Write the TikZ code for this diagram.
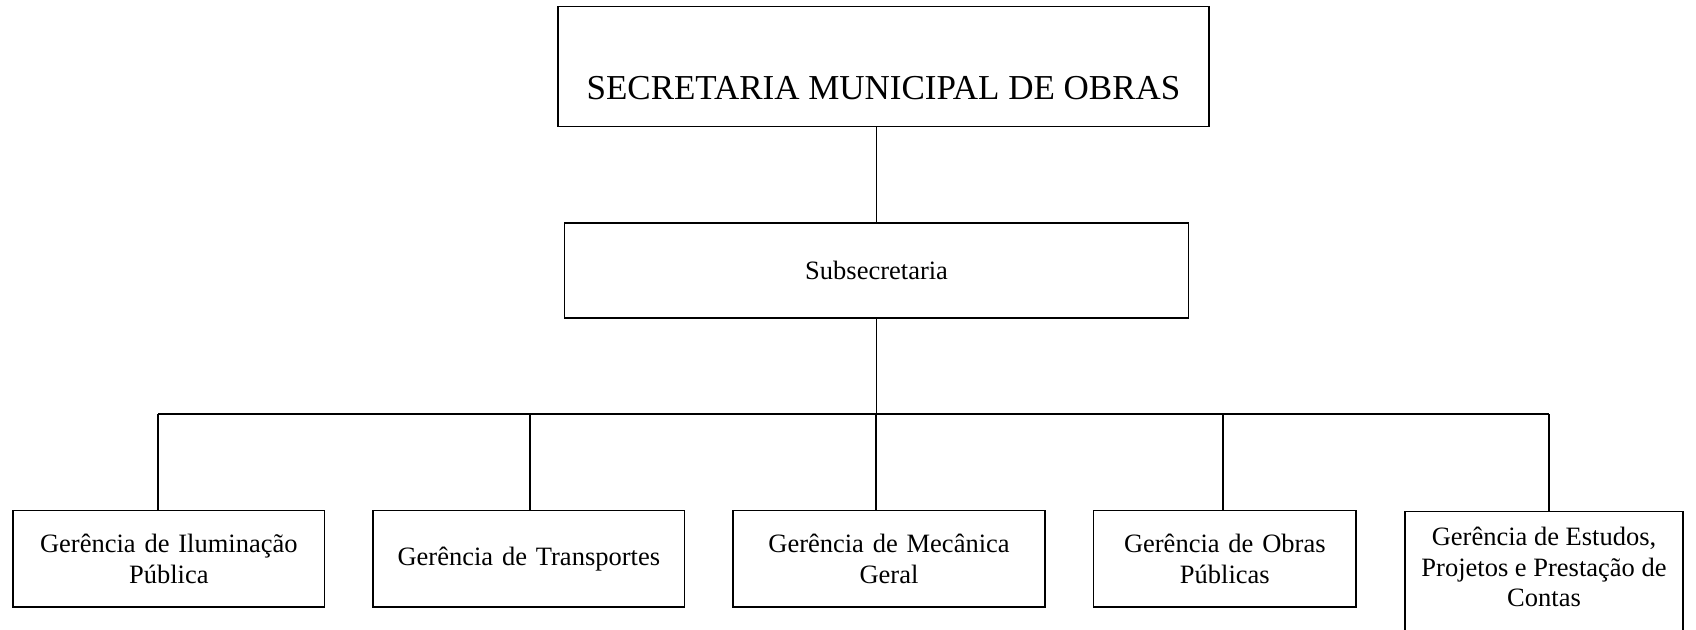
\documentclass[tikz,border=0pt]{standalone}
\usepackage{fontspec}
\setmainfont{Liberation Serif}
\begin{document}
\begin{tikzpicture}[x=1pt,y=-1pt,
  line width=1.6pt,
  box/.style={draw, line width=1.6pt, inner sep=0pt, align=center,
    font=\fontsize{26.5}{30.4}\selectfont},
  lbl/.style={align=center, font=\fontsize{26.5}{30.4}\selectfont, inner sep=0pt},
  conn/.style={line width=1.6pt}]
\useasboundingbox (0,0) rectangle (1696,629);
\clip (0,0) rectangle (1696,629);
% top
\node[box, anchor=base, minimum width=651pt, text height=93.2pt, text depth=26.8pt,
  font=\fontsize{35}{41}\selectfont] (top) at (883.5,99.7) {SECRETARIA MUNICIPAL DE OBRAS};
% sub
\node[box, minimum width=624pt, minimum height=95pt] (sub) at (876.6,270.4) {Subsecretaria};
% bottom boxes
\node[box, minimum width=311.5pt, minimum height=96.5pt, text width=300pt] (b1) at (168.8,558.8) {Gerência de Iluminação\\Pública};
\node[box, minimum width=311.6pt, minimum height=96.5pt, text width=300pt] (b2) at (528.8,558.8) {Gerência de Transportes};
\node[box, minimum width=312pt, minimum height=96.5pt, text width=300pt] (b3) at (889,558.8) {Gerência de Mecânica\\Geral};
\node[box, minimum width=262.5pt, minimum height=96.5pt, text width=250pt] (b4) at (1224.8,558.8) {Gerência de Obras\\Públicas};
\node[box, anchor=north, minimum width=278pt, minimum height=135pt,
  label={[lbl, yshift=11.6pt]center:Gerência de Estudos,\\Projetos e Prestação de\\Contas}] (b5) at (1544,510.5) {};
% bus coordinates
\coordinate (d1) at (158,414);
\coordinate (d2) at (530,414);
\coordinate (d3) at (876,414);
\coordinate (d4) at (1223,414);
\coordinate (d5) at (1549,414);
% connectors
\draw[conn] (sub.north |- top.south) -- (sub.north);
\draw[conn] (sub.south) -- (sub.south |- d3);
\draw[conn] (d1) -- (d5);
\draw[conn] (d1) -- (d1 |- b1.north);
\draw[conn] (d2) -- (d2 |- b2.north);
\draw[conn] (d3) -- (d3 |- b3.north);
\draw[conn] (d4) -- (d4 |- b4.north);
\draw[conn] (d5) -- (d5 |- b5.north);
\end{tikzpicture}
\end{document}
